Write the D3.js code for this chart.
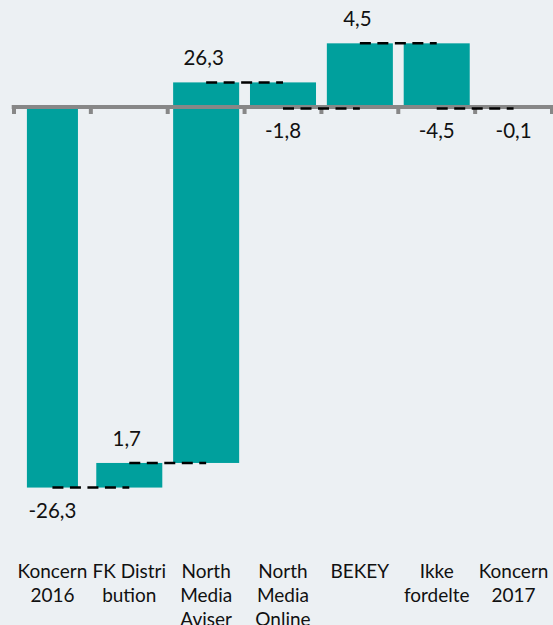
<!DOCTYPE html>
<html>
<head>
<meta charset="utf-8">
<script src="https://cdn.jsdelivr.net/npm/d3@7/dist/d3.min.js"></script>
<style>
  html, body { margin: 0; padding: 0; background: #ECF0F3; }
  svg { display: block; }
  text { font-family: Lato, "Open Sans", sans-serif; fill: #111; }
</style>
</head>
<body>
<svg id="chart" width="553" height="625"></svg>
<script>
// ---- data ----
const categories = ["Koncern\n2016", "FK Distri\nbution", "North\nMedia\nAviser", "North\nMedia\nOnline", "BEKEY", "Ikke\nfordelte", "Koncern\n2017"];
const values = [-26.3, 1.7, 26.3, -1.8, 4.5, -4.5, -0.1];
const kinds = ["total", "delta", "delta", "delta", "delta", "delta", "total"];
const axisDomain = [-30, 5];

// ---- build waterfall segments ----
let running = 0;
const bars = categories.map((c, i) => {
  let start, end;
  if (kinds[i] === "total") { start = 0; end = values[i]; }
  else { start = running; end = running + values[i]; }
  running = end;
  return { cat: c, value: values[i], kind: kinds[i], start, end };
});

const W = 553, H = 625;
const svg = d3.select("#chart");
svg.append("rect").attr("width", W).attr("height", H).attr("fill", "#ECF0F3");

const x = d3.scaleBand().domain(categories).range([14, 552]).padding(0);
const y = d3.scaleLinear().domain(axisDomain).range([541.1, 34.65]);
const bw = x.bandwidth();
const widthFor = k => (k === "total" ? 0.664 : 0.859) * bw;
const cx = c => x(c) + bw / 2;

// bars
svg.append("g").selectAll("rect").data(bars).join("rect")
  .attr("x", d => cx(d.cat) - widthFor(d.kind) / 2)
  .attr("width", d => widthFor(d.kind))
  .attr("y", d => y(Math.max(d.start, d.end)))
  .attr("height", d => Math.abs(y(d.start) - y(d.end)))
  .attr("fill", "#00A09D");

// axis line with ticks
const axisY = y(0);
const axisG = svg.append("g");
axisG.append("line")
  .attr("x1", 11.7).attr("x2", W)
  .attr("y1", axisY).attr("y2", axisY)
  .attr("stroke", "#878787").attr("stroke-width", 4);
const tickXs = categories.map(c => x(c)).concat([x.range()[1]]);
axisG.selectAll("line.tick").data(tickXs).join("line")
  .attr("class", "tick")
  .attr("x1", d => d).attr("x2", d => d)
  .attr("y1", axisY).attr("y2", axisY + 7)
  .attr("stroke", "#878787").attr("stroke-width", 4);

// connectors
const conns = bars.slice(0, -1).map((d, i) => ({ x1: cx(d.cat), x2: cx(bars[i + 1].cat), v: d.end }));
svg.append("g").selectAll("line").data(conns).join("line")
  .attr("x1", d => d.x1).attr("x2", d => d.x2)
  .attr("y1", d => y(d.v)).attr("y2", d => y(d.v))
  .attr("stroke", "#000").attr("stroke-width", 2.5)
  .attr("stroke-dasharray", "11,6.5");

// value labels
const fmt = v => d3.format(".1f")(v).replace(".", ",").replace("−", "-");
svg.append("g").selectAll("text").data(bars).join("text")
  .attr("x", d => cx(d.cat) - (d.value >= 0 ? 2.5 : 0))
  .attr("y", d => d.value >= 0 ? y(Math.max(d.start, d.end)) - 17 : y(Math.min(d.start, d.end)) + 30)
  .attr("text-anchor", "middle")
  .style("font-size", "20.5px")
  .text(d => fmt(d.value));

// category labels
const catG = svg.append("g");
categories.forEach(c => {
  const t = catG.append("text")
    .attr("x", cx(c)).attr("y", 577.7)
    .attr("text-anchor", "middle")
    .style("font-size", "19px");
  c.split("\n").forEach((line, j) => {
    t.append("tspan").attr("x", cx(c)).attr("dy", j === 0 ? 0 : 24.3).text(line);
  });
});
</script>
</body>
</html>
